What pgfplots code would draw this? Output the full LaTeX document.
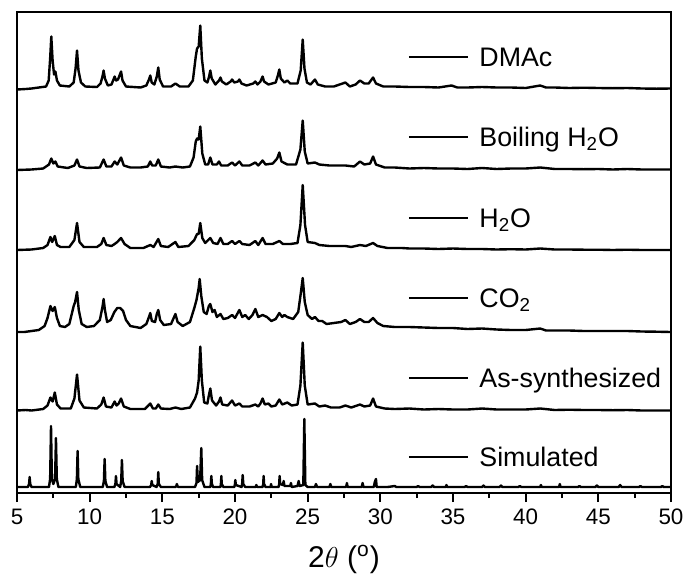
\documentclass[border=0pt]{standalone}
\usepackage{pgfplots}
\usepackage{pgfplotstable}
\usepackage{fontspec}
\setmainfont{Liberation Sans}
\pgfplotsset{compat=1.18}
\tikzset{
  samplelabel/.style={anchor=base west, inner sep=0pt, yshift=-4.8pt, font=\fontsize{13.4}{16}\selectfont},
  sampleline/.style={line width=1pt},
  pattern/.style={black, solid, line width=1.2pt, line join=round, mark=none},
}

% Powder XRD patterns, intensity in arbitrary units above each trace's own baseline
\pgfplotstableread{
x y
5.0 -1
5.6 -0.5
6.0 0
6.5 1
7.0 2
7.18 8
7.28 30
7.36 52
7.45 28
7.55 14
7.64 17
7.75 8
7.95 3
8.6 2
8.9 6
9.03 20
9.13 38
9.23 18
9.4 6
9.7 2
10.5 1.5
10.75 5
10.88 12
10.96 18
11.05 10
11.25 3
11.5 4
11.64 9
11.72 12
11.82 8
11.95 9
12.08 14
12.16 17
12.26 8
12.5 2
13.5 1
13.9 3
14.08 9
14.17 13
14.27 6
14.45 4
14.62 12
14.72 21
14.82 9
15.05 2
15.6 2
15.9 5
16.2 2
16.8 2
17.1 8
17.3 32
17.39 40
17.5 42
17.61 63
17.72 30
17.9 8
18.1 6
18.22 12
18.3 18
18.4 10
18.65 4
18.9 8
19.0 11
19.1 7
19.4 4
19.7 7
19.8 9
19.95 6
20.2 7
20.3 9
20.45 5
20.8 3
21.25 5
21.4 7
21.55 4
21.75 7
21.9 12
22.0 7
22.3 4
22.8 6
22.95 13
23.05 19
23.15 10
23.4 6
23.6 8
23.8 5
24.3 5
24.52 18
24.66 49
24.78 20
24.95 6
25.2 4
25.5 9
25.7 4
26.2 2
26.8 2
27.6 6
27.9 2
28.3 4
28.6 8
28.9 5
29.2 5
29.5 11
29.7 5
30.2 2
31 2
32 1.5
33 1.5
34 1
34.9 3
35.3 1
36 1
37 1.5
38 1
39 1
40 0.5
41 3
41.4 1
42 1
43 0.5
44 0.8
45 0.5
46 0.3
47 0.5
48 0
49 -0.2
50 0
}\dmac

\pgfplotstableread{
x y
5.0 -0.5
6.0 0
6.8 1
7.2 5
7.36 11
7.5 6
7.64 8
7.8 3
8.5 1.5
8.95 4
9.13 10
9.3 3
9.8 1.5
10.7 2
10.96 10
11.15 3
11.5 3
11.72 8
11.9 5
12.16 12
12.35 4
12.8 2
13.5 2
14.0 3
14.17 8
14.3 4
14.55 4
14.72 10
14.9 3
15.5 2
15.9 3
16.4 2
16.9 3
17.15 12
17.3 28
17.39 31
17.5 30
17.61 43
17.75 16
17.95 5
18.15 5
18.3 12
18.45 5
18.75 5
18.9 8
19.05 4
19.5 4
19.8 7
20.0 4
20.3 8
20.5 4
21.0 4
21.4 7
21.6 4
21.9 9
22.1 5
22.6 6
22.9 11
23.05 17
23.2 8
23.6 5
24.2 5
24.5 20
24.66 49
24.8 18
25.0 6
25.5 7
25.8 5
26.5 4
27.0 4
27.6 4
28.2 3
28.6 8
28.9 5
29.3 6
29.5 13
29.7 5
30.3 2
31 2
32 1
33 1.5
34 1
35 1
36 0.5
37 1.5
38 0.5
39 1
40 1
41 2
42 0.5
43 0.5
44 0.3
45 0.5
46 0
47 0.5
48 0
49 0
50 0
}\boiling

\pgfplotstableread{
x y
5.0 0
6.0 0.5
6.8 2
7.1 5
7.3 13
7.42 8
7.6 14
7.75 5
8.0 3
8.6 3
8.95 10
9.13 27
9.3 8
9.6 3
10.5 3
10.8 6
10.96 12
11.15 5
11.5 4
11.72 6
11.9 8
12.16 12
12.4 6
12.8 2
13.7 2
14.17 5
14.4 3
14.72 11
14.9 4
15.4 3
15.9 8
16.1 3
16.8 4
17.2 10
17.39 16
17.5 16
17.61 27
17.75 12
17.95 7
18.3 12
18.5 7
18.8 6
19.0 12
19.2 6
19.5 6
19.8 9
20.0 6
20.3 9
20.5 6
21.0 5
21.4 9
21.6 5
21.9 12
22.1 6
22.6 6
23.05 9
23.3 6
23.8 6
24.3 7
24.5 25
24.66 65
24.82 25
25.0 8
25.5 7
25.8 5
26.5 4
27.2 4
27.6 4
28.0 3
28.6 5
29.0 4
29.5 7
29.8 4
30.5 2
31.5 2
32 1.5
33 1.5
34 1
35 1.5
36 1
37 1
38 0.5
39 0.8
40 0.5
41 1.5
42 0.5
43 0.5
44 0.3
45 0.3
46 0
47 0.3
48 0
49 0
50 0
}\water

\pgfplotstableread{
x y
5.0 0
5.5 0
6.0 1
6.5 2
6.9 6
7.1 14
7.3 26
7.45 21
7.6 25
7.75 14
7.95 6
8.3 5
8.6 8
8.8 20
8.9 26
9.0 30
9.13 40
9.25 22
9.45 8
9.8 5
10.3 6
10.7 12
10.88 25
10.96 33
11.05 22
11.2 10
11.45 12
11.7 20
11.9 24
12.1 24
12.3 21
12.5 12
12.8 6
13.5 4
13.9 8
14.08 15
14.17 19
14.28 11
14.5 10
14.62 18
14.72 22
14.85 12
15.1 7
15.6 8
15.9 18
16.05 10
16.4 6
16.9 10
17.2 24
17.35 32
17.5 44
17.57 53
17.68 36
17.85 20
18.05 18
18.2 26
18.3 28
18.45 20
18.6 22
18.75 15
19.0 18
19.2 13
19.5 14
19.8 17
20.0 14
20.3 22
20.5 15
20.7 17
20.95 13
21.2 17
21.4 23
21.6 15
21.9 17
22.2 15
22.5 11
22.8 13
23.05 19
23.25 15
23.4 17
23.6 15
24.0 13
24.35 20
24.52 38
24.66 54
24.8 30
25.0 17
25.3 13
25.5 15
25.75 11
26.0 11
26.3 8
26.8 9
27.3 10
27.6 12
27.9 8
28.3 10
28.6 13
28.9 10
29.2 10
29.5 14
29.8 9
30.2 6
31 5
32 5
33 4.5
34 4
35 4
36 3
37 3.5
38 2.5
39 2
40 2
41 3.5
41.4 1.5
42 1.5
43 1.5
44 1
45 1
46 1
47 1
48 0.5
49 0.3
50 0
}\carbon

\pgfplotstableread{
x y
5.0 0
5.6 0.5
6.0 0
6.8 1.5
7.1 5
7.3 13
7.45 9
7.6 18
7.75 6
8.0 2
8.7 2
8.95 12
9.13 36
9.3 10
9.6 3
10.5 2
10.8 6
10.96 13
11.12 4
11.5 3
11.72 9
11.85 5
12.0 7
12.16 12
12.35 4
12.8 1.5
13.8 1.5
14.17 7
14.35 2
14.55 2
14.72 6
14.9 2
15.5 1.5
15.9 3
16.3 1.5
16.9 3
17.25 12
17.39 18
17.5 30
17.61 64
17.72 30
17.88 8
18.1 7
18.2 15
18.3 22
18.42 10
18.7 5
18.9 9
19.0 13
19.12 6
19.5 5
19.8 10
20.0 5
20.3 7
20.5 4
21.0 4
21.4 6
21.6 4
21.75 7
21.9 12
22.05 6
22.3 7
22.5 4
22.8 5
23.05 11
23.25 6
23.6 8
23.9 5
24.3 6
24.5 25
24.66 68
24.8 25
25.0 6
25.5 7
25.8 4
26.2 5
26.6 3
27.2 3
27.6 5
28.0 3
28.6 6
28.9 4
29.3 5
29.5 12
29.7 4
30.3 2
31 1.5
32 2
33 1
34 1.5
35 1
36 1
37 2
38 1
39 1
40 1
41 2
42 0.5
43 0.8
44 0.5
45 0.5
46 0.3
47 0.5
48 0
49 0
50 0
}\assyn

\pgfplotstableread{
x y
5.0 0
5.75 0
5.83 3
5.87 10
5.91 3
6.0 0
7.2 0
7.28 8
7.34 61
7.4 8
7.5 3
7.62 8
7.68 49
7.74 8
7.85 0
9.05 0
9.12 8
9.17 36
9.22 8
9.35 0
10.9 0
10.98 6
11.03 28
11.08 6
11.2 0
11.7 0
11.77 3
11.81 11
11.85 3
12.1 0
12.17 6
12.22 27
12.27 6
12.4 0
14.15 0
14.23 2
14.27 6
14.31 2
14.6 0
14.68 3
14.72 15
14.76 3
14.9 0
15.9 0
15.96 1
16.0 3
16.04 1
16.1 0
17.25 0
17.35 4
17.39 21
17.45 5
17.6 7
17.68 39
17.74 7
17.9 0
18.3 0
18.34 3
18.37 11
18.41 3
18.5 0
19.0 0
19.03 3
19.06 11
19.09 3
19.2 0
19.95 0
19.99 2
20.02 7
20.06 2
20.45 0
20.49 3
20.53 12
20.57 3
20.7 0
21.42 0
21.47 2
21.52 0
21.9 0
21.94 3
21.97 11
22.0 3
22.1 0
22.45 0
22.48 3
22.52 0
23.0 0
23.04 3
23.07 11
23.11 3
23.3 2
23.35 6
23.4 1
23.8 1
23.85 4
23.9 0
24.3 1
24.38 6
24.45 1
24.7 2
24.77 68
24.84 2
25.0 0
25.5 0
25.57 3
25.65 0
26.5 0
26.56 3
26.62 0
27.65 0
27.7 4
27.75 0
28.72 0
28.78 4
28.84 0
29.55 0
29.62 5
29.7 8
29.75 0
30.5 0
31.0 1
31.1 0
32.5 0
32.6 1
32.7 0
33.5 0
33.6 1.5
33.7 0
34.5 0
34.55 2
34.6 0
35.8 0
35.9 1
36.0 0
37.0 0
37.1 1.5
37.2 0
38.2 0
38.3 1.5
38.4 0
39.5 0
39.6 1
39.7 0
41.0 0
41.05 2
41.1 0
42.3 0
42.35 3
42.4 0
43.6 0
43.7 1
43.8 0
44.8 0
44.9 1.5
45.0 0
46.4 0
46.5 2
46.6 0
47.8 0
47.9 1
48.0 0
49.3 0
49.4 1
49.5 0
50.0 0
}\simulated

\begin{document}
\begin{tikzpicture}
\useasboundingbox (-8.5pt,-41pt) rectangle (336.5pt,246.5pt);
\begin{axis}[
  scale only axis,
  width=327pt, height=240.5pt,
  xmin=5, xmax=50, ymin=0, ymax=481,
  xtick={5,10,...,50},
  minor x tick num=1,
  ytick=\empty,
  xtick pos=bottom,
  tick align=outside,
  major tick length=4.5pt,
  minor tick length=2.5pt,
  axis line style={line width=1pt},
  every tick/.style={black, line width=0.9pt},
  /pgf/number format/assume math mode=true,
  ticklabel style={font=\fontsize{11.2}{13}\selectfont},
  xlabel={2$\theta$ (\textsuperscript{o})},
  xlabel style={font=\fontsize{15}{17}\selectfont, at={(axis description cs:0.5,0)}, anchor=base, yshift=-37pt},
  clip=false,
]
\addplot[pattern] table[x=x, y expr=\thisrow{y}+404.5] {\dmac};
\addplot[pattern] table[x=x, y expr=\thisrow{y}+323.5] {\boiling};
\addplot[pattern] table[x=x, y expr=\thisrow{y}+243] {\water};
\addplot[pattern] table[x=x, y expr=\thisrow{y}+161] {\carbon};
\addplot[pattern] table[x=x, y expr=\thisrow{y}+82.5] {\assyn};
\addplot[pattern] table[x=x, y expr=\thisrow{y}+6] {\simulated};

% sample labels
\draw[sampleline] (axis cs:31.97,436) -- (axis cs:36.03,436);
\node[samplelabel] at (axis cs:36.79,436) {DMAc};
\draw[sampleline] (axis cs:31.97,356) -- (axis cs:36.03,356);
\node[samplelabel] at (axis cs:36.79,356) {Boiling H\textsubscript{2}O};
\draw[sampleline] (axis cs:31.97,275) -- (axis cs:36.03,275);
\node[samplelabel] at (axis cs:36.79,275) {H\textsubscript{2}O};
\draw[sampleline] (axis cs:31.97,195) -- (axis cs:36.03,195);
\node[samplelabel] at (axis cs:36.79,195) {CO\textsubscript{2}};
\draw[sampleline] (axis cs:31.97,115) -- (axis cs:36.03,115);
\node[samplelabel] at (axis cs:36.79,115) {As-synthesized};
\draw[sampleline] (axis cs:31.97,36) -- (axis cs:36.03,36);
\node[samplelabel] at (axis cs:36.79,36) {Simulated};
\end{axis}
\end{tikzpicture}
\end{document}
